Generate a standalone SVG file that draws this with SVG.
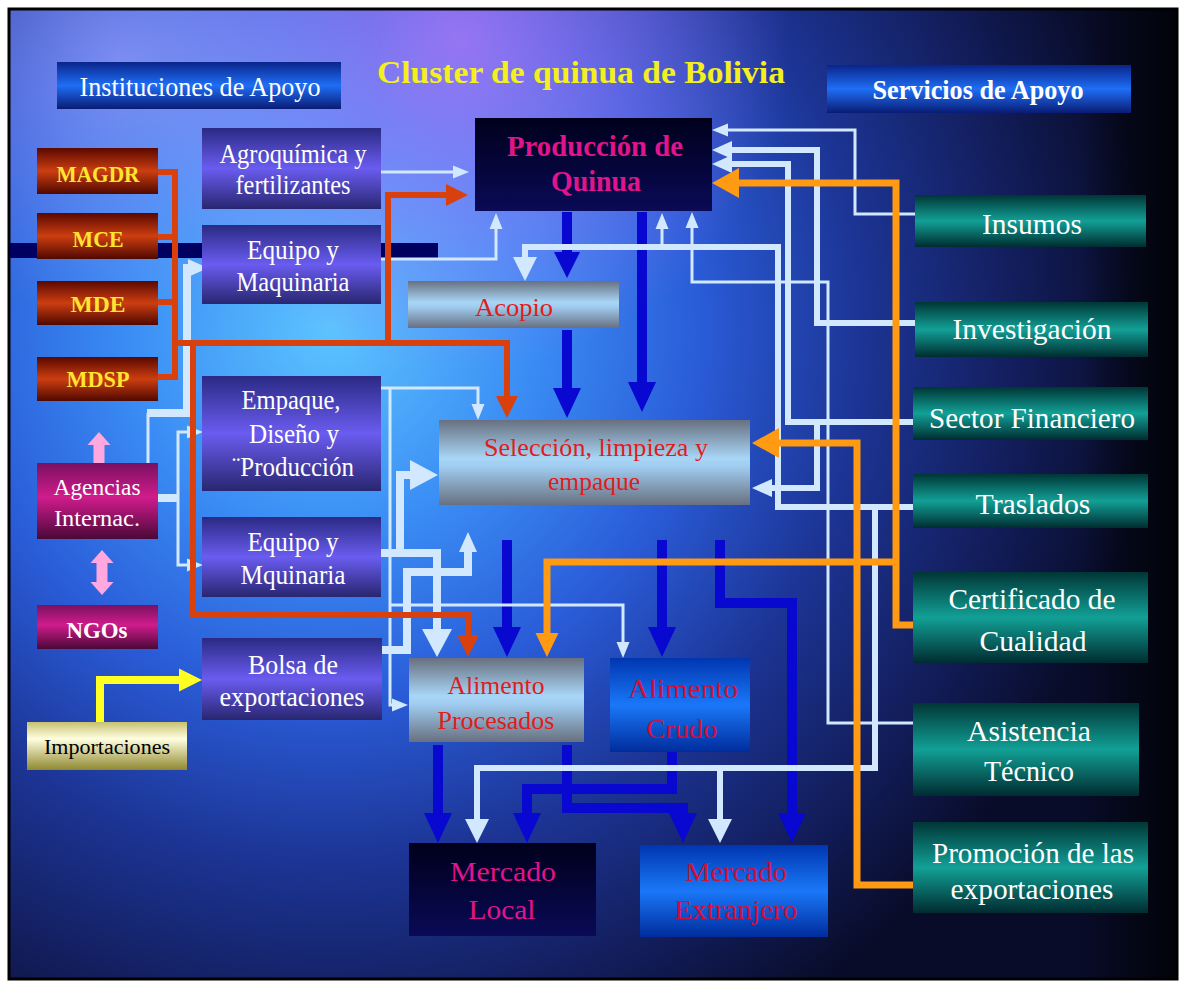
<svg xmlns="http://www.w3.org/2000/svg" width="1180" height="985" viewBox="0 0 1180 985">
<defs>
  <radialGradient id="bgR" gradientUnits="userSpaceOnUse" cx="330" cy="330" r="820">
    <stop offset="0" stop-color="#5cc4ff"/>
    <stop offset="0.25" stop-color="#3a8cf4"/>
    <stop offset="0.45" stop-color="#2a5cd8"/>
    <stop offset="0.65" stop-color="#1c3494"/>
    <stop offset="0.85" stop-color="#121c58"/>
    <stop offset="1" stop-color="#080c28"/>
  </radialGradient>
  <radialGradient id="bgP" gradientUnits="userSpaceOnUse" cx="460" cy="40" r="330">
    <stop offset="0" stop-color="#b878f8" stop-opacity="0.75"/>
    <stop offset="1" stop-color="#b878f8" stop-opacity="0"/>
  </radialGradient>
  <radialGradient id="bgP2" gradientUnits="userSpaceOnUse" cx="120" cy="60" r="260">
    <stop offset="0" stop-color="#b0a8ff" stop-opacity="0.6"/>
    <stop offset="1" stop-color="#b0a8ff" stop-opacity="0"/>
  </radialGradient>
  <linearGradient id="bgD" gradientUnits="userSpaceOnUse" x1="1080" y1="0" x2="1177" y2="0">
    <stop offset="0" stop-color="#000" stop-opacity="0"/>
    <stop offset="1" stop-color="#000" stop-opacity="0.8"/>
  </linearGradient>
  <linearGradient id="gInst" x1="0" y1="0" x2="0" y2="1">
    <stop offset="0" stop-color="#0a248a"/><stop offset="0.5" stop-color="#1e6ef6"/><stop offset="1" stop-color="#0a1c74"/>
  </linearGradient>
  <linearGradient id="gPur" x1="0" y1="0" x2="0" y2="1">
    <stop offset="0" stop-color="#2a2a84"/><stop offset="0.5" stop-color="#6a5cf0"/><stop offset="1" stop-color="#282670"/>
  </linearGradient>
  <linearGradient id="gRed" x1="0" y1="0" x2="0" y2="1">
    <stop offset="0" stop-color="#5a0800"/><stop offset="0.5" stop-color="#cc3e10"/><stop offset="1" stop-color="#500800"/>
  </linearGradient>
  <linearGradient id="gMag" x1="0" y1="0" x2="0" y2="1">
    <stop offset="0" stop-color="#7a1060"/><stop offset="0.45" stop-color="#d01c8c"/><stop offset="1" stop-color="#4a0838"/>
  </linearGradient>
  <linearGradient id="gYel" x1="0" y1="0" x2="0" y2="1">
    <stop offset="0" stop-color="#c8c070"/><stop offset="0.35" stop-color="#ffffe0"/><stop offset="1" stop-color="#908830"/>
  </linearGradient>
  <linearGradient id="gMet" x1="0" y1="0" x2="0" y2="1">
    <stop offset="0" stop-color="#687080"/><stop offset="0.45" stop-color="#a8d6f6"/><stop offset="0.55" stop-color="#a0ccf0"/><stop offset="1" stop-color="#687080"/>
  </linearGradient>
  <linearGradient id="gBlu" x1="0" y1="0" x2="0" y2="1">
    <stop offset="0" stop-color="#0036b0"/><stop offset="0.5" stop-color="#1a78f8"/><stop offset="1" stop-color="#002c9c"/>
  </linearGradient>
  <linearGradient id="gDark" x1="0" y1="0" x2="0" y2="1">
    <stop offset="0" stop-color="#00001c"/><stop offset="1" stop-color="#0a0a56"/>
  </linearGradient>
  <linearGradient id="gTeal" x1="0" y1="0" x2="0" y2="1">
    <stop offset="0" stop-color="#003636"/><stop offset="0.5" stop-color="#12a096"/><stop offset="1" stop-color="#002c30"/>
  </linearGradient>
  <marker id="aBlue" markerUnits="userSpaceOnUse" orient="auto" refX="0" refY="14" markerWidth="30" markerHeight="28" overflow="visible"><path d="M0,0 L30,14 L0,28 Z" fill="#0808d0"/></marker>
  <marker id="aBlueS" markerUnits="userSpaceOnUse" orient="auto" refX="0" refY="13" markerWidth="26" markerHeight="26" overflow="visible"><path d="M0,0 L26,13 L0,26 Z" fill="#0808d0"/></marker>
  <marker id="aLB" markerUnits="userSpaceOnUse" orient="auto" refX="0" refY="12" markerWidth="24" markerHeight="24" overflow="visible"><path d="M0,0 L24,12 L0,24 Z" fill="#d2e8ff"/></marker>
  <marker id="aLBbig" markerUnits="userSpaceOnUse" orient="auto" refX="0" refY="15" markerWidth="28" markerHeight="30" overflow="visible"><path d="M0,0 L28,15 L0,30 Z" fill="#d2e8ff"/></marker>
  <marker id="aLBm" markerUnits="userSpaceOnUse" orient="auto" refX="0" refY="9" markerWidth="20" markerHeight="18" overflow="visible"><path d="M0,0 L20,9 L0,18 Z" fill="#d2e8ff"/></marker>
  <marker id="aLBs" markerUnits="userSpaceOnUse" orient="auto" refX="0" refY="6.5" markerWidth="16" markerHeight="13" overflow="visible"><path d="M0,0 L16,6.5 L0,13 Z" fill="#d2e8ff"/></marker>
  <marker id="aRed" markerUnits="userSpaceOnUse" orient="auto" refX="0" refY="11" markerWidth="22" markerHeight="22" overflow="visible"><path d="M0,0 L22,11 L0,22 Z" fill="#d8400e"/></marker>
  <marker id="aOr" markerUnits="userSpaceOnUse" orient="auto" refX="0" refY="15" markerWidth="27" markerHeight="30" overflow="visible"><path d="M0,0 L27,15 L0,30 Z" fill="#ff9a12"/></marker>
  <marker id="aOrS" markerUnits="userSpaceOnUse" orient="auto" refX="0" refY="11.5" markerWidth="24" markerHeight="23" overflow="visible"><path d="M0,0 L24,11.5 L0,23 Z" fill="#ff9a12"/></marker>
  <marker id="aYel" markerUnits="userSpaceOnUse" orient="auto" refX="0" refY="11.5" markerWidth="23" markerHeight="23" overflow="visible"><path d="M0,0 L23,11.5 L0,23 Z" fill="#ffff22"/></marker>
  <marker id="aPink" markerUnits="userSpaceOnUse" orient="auto-start-reverse" refX="0" refY="11.5" markerWidth="13" markerHeight="23" overflow="visible"><path d="M0,0 L13,11.5 L0,23 Z" fill="#ffa8e0"/></marker>
  <style>
    text { font-family: "Liberation Serif", "Times New Roman", serif; text-anchor: middle; }
    .w { fill: #ffffff; }
    .y { fill: #ffe432; font-weight: bold; }
    .mg { fill: #e0148c; font-weight: bold; }
    .rd { fill: #e01c1c; }
    .cr { fill: #d0103c; }
    .c { fill: none; stroke-linejoin: miter; }
    .blue { stroke: #0808d0; stroke-width: 10; }
    .lb { stroke: #d2e8ff; stroke-width: 6; }
    .lbt { stroke: #d2e8ff; stroke-width: 3; }
    .lbk { stroke: #d2e8ff; stroke-width: 8; }
    .red { stroke: #d8400e; stroke-width: 6; }
    .or { stroke: #ff9a12; stroke-width: 7; }
    .yel { stroke: #ffff22; stroke-width: 8; }
    .pink { stroke: #ffa8e0; stroke-width: 11; }
  </style>
</defs>

<g id="background">
  <rect x="0" y="0" width="1180" height="985" fill="#ffffff"/>
  <rect x="9" y="9" width="1168" height="970" fill="url(#bgR)"/>
  <rect x="9" y="9" width="1168" height="970" fill="url(#bgP)"/>
  <rect x="9" y="9" width="1168" height="970" fill="url(#bgP2)"/>
  <rect x="9" y="9" width="1168" height="970" fill="url(#bgD)"/>
  <rect x="9" y="9" width="1168" height="970" fill="none" stroke="#000" stroke-width="3"/>
  <rect x="10" y="243" width="428" height="15" fill="#000060"/>
</g>

<g id="title">
  <text x="581" y="83" font-size="31" font-weight="bold" fill="#f4f020" textLength="408" lengthAdjust="spacingAndGlyphs">Cluster de quinua de Bolivia</text>
</g>

<g id="connectors">
  <!-- blue flows -->
  <path class="c blue" d="M567,212 V252" marker-end="url(#aBlueS)"/>
  <path class="c blue" d="M567,330 V388" marker-end="url(#aBlue)"/>
  <path class="c blue" d="M642,212 V382" marker-end="url(#aBlue)"/>
  <path class="c blue" d="M507,540 V627" marker-end="url(#aBlue)"/>
  <path class="c blue" d="M662,540 V627" marker-end="url(#aBlue)"/>
  <path class="c blue" d="M720,540 V603 H792 V813" marker-end="url(#aBlue)"/>
  <path class="c blue" d="M438,745 V813" marker-end="url(#aBlue)"/>
  <path class="c blue" d="M567,745 V808 H683 V813" marker-end="url(#aBlue)"/>
  <path class="c blue" d="M672,752 V789 H527 V813" marker-end="url(#aBlue)"/>

  <!-- support services (light blue) -->
  <path class="c lbt" d="M915,214 H855 V130 H728" marker-end="url(#aLBs)"/>
  <path class="c lb" d="M915,323 H817 V150 H732" marker-end="url(#aLBm)"/>
  <path class="c lb" d="M915,422 H788 V164 H732" marker-end="url(#aLBm)"/>
  <path class="c lb" d="M817,422 V488 H772" marker-end="url(#aLBm)"/>
  <path class="c lb" d="M915,507 H778 V247 H525 V257" marker-end="url(#aLB)"/>
  <path class="c lbt" d="M662,247 V229" marker-end="url(#aLBs)"/>
  <path class="c lb" d="M915,507 H875 V768 H477 V819" marker-end="url(#aLB)"/>
  <path class="c lb" d="M720,768 V819" marker-end="url(#aLB)"/>
  <path class="c lbt" d="M913,723 H828 V282 H692 V228" marker-end="url(#aLBs)"/>

  <!-- support institutions (left side light blue) -->
  <path class="c lbt" d="M381,172 H453" marker-end="url(#aLBs)"/>
  <path class="c lbt" d="M381,259 H496 V229" marker-end="url(#aLBs)"/>
  <path class="c lbt" d="M381,388 H478 V404" marker-end="url(#aLBs)"/>
  <path class="c lbt" d="M390,388 V705 H392" marker-end="url(#aLBs)"/>
  <path class="c lbt" d="M390,605 H623 V642" marker-end="url(#aLBs)"/>
  <path class="c lbk" d="M381,553 H437 V629" marker-end="url(#aLBbig)"/>
  <path class="c lbk" d="M400,553 V475 H410" marker-end="url(#aLBbig)"/>
  <path class="c lbk" d="M382,650 H407 V572 H468 V552" marker-end="url(#aLBm)"/>
  <path class="c lbk" d="M158,498 H178"/>
  <path class="c lbt" d="M178,498 V432 H187" marker-end="url(#aLBs)"/>
  <path class="c lbt" d="M178,498 V565 H187" marker-end="url(#aLBs)"/>
  <path class="c lbt" d="M148,463 V413"/>
  <path class="c lbk" d="M147,413 H187 V268 H188" marker-end="url(#aLBm)"/>

  <!-- ministries (red) -->
  <path class="c red" d="M158,172 H175 M158,237 H175 M158,302 H175 M158,377 H175 M175,169 V380"/>
  <path class="c red" d="M175,343 H507 V396" marker-end="url(#aRed)"/>
  <path class="c red" d="M388,343 V195 H446" marker-end="url(#aRed)"/>
  <path class="c red" d="M193,343 V615 H468 V635" marker-end="url(#aRed)"/>

  <!-- orange -->
  <path class="c or" d="M913,625 H896 V183 H739" marker-end="url(#aOr)"/>
  <path class="c or" d="M896,562 H547 V633" marker-end="url(#aOrS)"/>
  <path class="c or" d="M913,885 H857 V443 H779" marker-end="url(#aOr)"/>

  <!-- imports (yellow) -->
  <path class="c yel" d="M100,722 V680 H179" marker-end="url(#aYel)"/>

  <!-- pink -->
  <path class="c pink" d="M99,463 V445" marker-end="url(#aPink)"/>
  <path class="c pink" d="M102,563 V582" marker-start="url(#aPink)" marker-end="url(#aPink)"/>
</g>

<g id="instituciones-de-apoyo">
  <rect x="57" y="62" width="284" height="47" fill="url(#gInst)"/>
  <text class="w" x="200" y="96" font-size="27" textLength="241" lengthAdjust="spacingAndGlyphs">Instituciones de Apoyo</text>
</g>
<g id="servicios-de-apoyo">
  <rect x="827" y="65" width="304" height="48" fill="url(#gInst)"/>
  <text class="w" x="978" y="99" font-size="27" font-weight="bold" textLength="211" lengthAdjust="spacingAndGlyphs">Servicios de Apoyo</text>
</g>

<g id="produccion-de-quinua">
  <rect x="475" y="118" width="237" height="93" fill="url(#gDark)"/>
  <text class="mg" x="595" y="156" font-size="30" textLength="176" lengthAdjust="spacingAndGlyphs">Producción de</text>
  <text class="mg" x="596" y="191" font-size="30" textLength="90" lengthAdjust="spacingAndGlyphs">Quinua</text>
</g>

<g id="magdr">
  <rect x="37" y="148" width="121" height="46" fill="url(#gRed)"/>
  <text class="y" x="98" y="182" font-size="23" textLength="83" lengthAdjust="spacingAndGlyphs">MAGDR</text>
</g>
<g id="mce">
  <rect x="37" y="213" width="121" height="46" fill="url(#gRed)"/>
  <text class="y" x="98" y="247" font-size="23" textLength="51" lengthAdjust="spacingAndGlyphs">MCE</text>
</g>
<g id="mde">
  <rect x="37" y="281" width="121" height="44" fill="url(#gRed)"/>
  <text class="y" x="98" y="312" font-size="23" textLength="55" lengthAdjust="spacingAndGlyphs">MDE</text>
</g>
<g id="mdsp">
  <rect x="37" y="357" width="121" height="44" fill="url(#gRed)"/>
  <text class="y" x="98" y="387" font-size="23" textLength="63" lengthAdjust="spacingAndGlyphs">MDSP</text>
</g>

<g id="agroquimica">
  <rect x="202" y="128" width="179" height="81" fill="url(#gPur)"/>
  <text class="w" x="293" y="163" font-size="27" textLength="147" lengthAdjust="spacingAndGlyphs">Agroquímica y</text>
  <text class="w" x="293" y="194" font-size="27" textLength="115" lengthAdjust="spacingAndGlyphs">fertilizantes</text>
</g>
<g id="equipo-maquinaria-1">
  <rect x="202" y="225" width="179" height="79" fill="url(#gPur)"/>
  <text class="w" x="293" y="259" font-size="27" textLength="92" lengthAdjust="spacingAndGlyphs">Equipo y</text>
  <text class="w" x="293" y="291" font-size="27" textLength="113" lengthAdjust="spacingAndGlyphs">Maquinaria</text>
</g>
<g id="empaque-diseno">
  <rect x="202" y="376" width="179" height="115" fill="url(#gPur)"/>
  <text class="w" x="291" y="409" font-size="27" textLength="99" lengthAdjust="spacingAndGlyphs">Empaque,</text>
  <text class="w" x="294" y="443" font-size="27" textLength="90" lengthAdjust="spacingAndGlyphs">Diseño y</text>
  <text class="w" x="293" y="476" font-size="27" textLength="122" lengthAdjust="spacingAndGlyphs">¨Producción</text>
</g>
<g id="equipo-maquinaria-2">
  <rect x="202" y="517" width="179" height="80" fill="url(#gPur)"/>
  <text class="w" x="293" y="551" font-size="27" textLength="91" lengthAdjust="spacingAndGlyphs">Equipo y</text>
  <text class="w" x="293" y="584" font-size="27" textLength="105" lengthAdjust="spacingAndGlyphs">Mquinaria</text>
</g>
<g id="bolsa-exportaciones">
  <rect x="202" y="638" width="180" height="82" fill="url(#gPur)"/>
  <text class="w" x="293" y="674" font-size="27" textLength="90" lengthAdjust="spacingAndGlyphs">Bolsa de</text>
  <text class="w" x="292" y="706" font-size="27" textLength="145" lengthAdjust="spacingAndGlyphs">exportaciones</text>
</g>

<g id="agencias-internac">
  <rect x="37" y="463" width="121" height="76" fill="url(#gMag)"/>
  <text class="w" x="97" y="495" font-size="24" textLength="87" lengthAdjust="spacingAndGlyphs">Agencias</text>
  <text class="w" x="97" y="526" font-size="24" textLength="86" lengthAdjust="spacingAndGlyphs">Internac.</text>
</g>
<g id="ngos">
  <rect x="37" y="605" width="121" height="44" fill="url(#gMag)"/>
  <text class="w" x="97" y="638" font-size="24" font-weight="bold" textLength="61" lengthAdjust="spacingAndGlyphs">NGOs</text>
</g>
<g id="importaciones">
  <rect x="27" y="722" width="160" height="48" fill="url(#gYel)"/>
  <text x="107" y="754" font-size="20" fill="#000" textLength="126" lengthAdjust="spacingAndGlyphs">Importaciones</text>
</g>

<g id="acopio">
  <rect x="408" y="281" width="211" height="47" fill="url(#gMet)"/>
  <text class="rd" x="514" y="316" font-size="26" textLength="78" lengthAdjust="spacingAndGlyphs">Acopio</text>
</g>
<g id="seleccion">
  <rect x="439" y="420" width="311" height="85" fill="url(#gMet)"/>
  <text class="rd" x="596" y="456" font-size="26" textLength="224" lengthAdjust="spacingAndGlyphs">Selección, limpieza y</text>
  <text class="rd" x="594" y="490" font-size="26" textLength="92" lengthAdjust="spacingAndGlyphs">empaque</text>
</g>
<g id="alimento-procesados">
  <rect x="409" y="658" width="175" height="84" fill="url(#gMet)"/>
  <text class="rd" x="496" y="694" font-size="26" textLength="97" lengthAdjust="spacingAndGlyphs">Alimento</text>
  <text class="rd" x="496" y="729" font-size="26" textLength="117" lengthAdjust="spacingAndGlyphs">Procesados</text>
</g>
<g id="alimento-crudo">
  <rect x="610" y="658" width="140" height="94" fill="url(#gBlu)"/>
  <text class="cr" x="683" y="698" font-size="27" textLength="110" lengthAdjust="spacingAndGlyphs">Alimento</text>
  <text class="cr" x="682" y="738" font-size="27" textLength="71" lengthAdjust="spacingAndGlyphs">Crudo</text>
</g>
<g id="mercado-local">
  <rect x="409" y="843" width="187" height="93" fill="url(#gDark)"/>
  <text x="503" y="881" font-size="28" fill="#e0148c" textLength="106" lengthAdjust="spacingAndGlyphs">Mercado</text>
  <text x="502" y="919" font-size="28" fill="#e0148c" textLength="67" lengthAdjust="spacingAndGlyphs">Local</text>
</g>
<g id="mercado-extranjero">
  <rect x="640" y="845" width="188" height="92" fill="url(#gBlu)"/>
  <text class="cr" x="736" y="881" font-size="28" textLength="102" lengthAdjust="spacingAndGlyphs">Mercado</text>
  <text class="cr" x="736" y="919" font-size="28" textLength="123" lengthAdjust="spacingAndGlyphs">Extranjero</text>
</g>

<g id="insumos">
  <rect x="915" y="195" width="231" height="52" fill="url(#gTeal)"/>
  <text class="w" x="1032" y="234" font-size="29" textLength="100" lengthAdjust="spacingAndGlyphs">Insumos</text>
</g>
<g id="investigacion">
  <rect x="915" y="302" width="233" height="55" fill="url(#gTeal)"/>
  <text class="w" x="1032" y="339" font-size="29" textLength="159" lengthAdjust="spacingAndGlyphs">Investigación</text>
</g>
<g id="sector-financiero">
  <rect x="913" y="387" width="235" height="53" fill="url(#gTeal)"/>
  <text class="w" x="1032" y="428" font-size="29" textLength="206" lengthAdjust="spacingAndGlyphs">Sector Financiero</text>
</g>
<g id="traslados">
  <rect x="913" y="474" width="235" height="54" fill="url(#gTeal)"/>
  <text class="w" x="1033" y="514" font-size="29" textLength="115" lengthAdjust="spacingAndGlyphs">Traslados</text>
</g>
<g id="certificado-cualidad">
  <rect x="913" y="572" width="235" height="91" fill="url(#gTeal)"/>
  <text class="w" x="1032" y="609" font-size="29" textLength="167" lengthAdjust="spacingAndGlyphs">Certificado de</text>
  <text class="w" x="1033" y="651" font-size="29" textLength="107" lengthAdjust="spacingAndGlyphs">Cualidad</text>
</g>
<g id="asistencia-tecnico">
  <rect x="913" y="703" width="226" height="93" fill="url(#gTeal)"/>
  <text class="w" x="1029" y="741" font-size="29" textLength="124" lengthAdjust="spacingAndGlyphs">Asistencia</text>
  <text class="w" x="1029" y="781" font-size="29" textLength="90" lengthAdjust="spacingAndGlyphs">Técnico</text>
</g>
<g id="promocion-exportaciones">
  <rect x="913" y="822" width="235" height="91" fill="url(#gTeal)"/>
  <text class="w" x="1033" y="863" font-size="29" textLength="202" lengthAdjust="spacingAndGlyphs">Promoción de las</text>
  <text class="w" x="1032" y="899" font-size="29" textLength="163" lengthAdjust="spacingAndGlyphs">exportaciones</text>
</g>
</svg>
